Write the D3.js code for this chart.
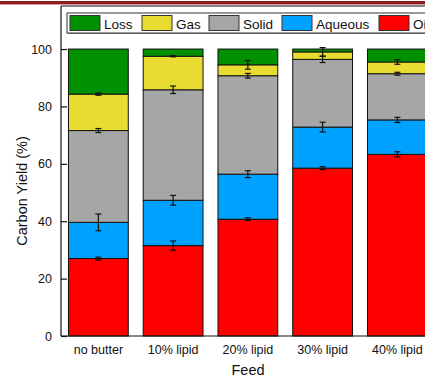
<!DOCTYPE html>
<html>
<head>
<meta charset="utf-8">
<script src="https://cdn.jsdelivr.net/npm/d3@7"></script>
<style>
  html, body { margin: 0; padding: 0; background: #fff; overflow: hidden; }
  svg { display: block; font-family: "Liberation Sans", Arial, sans-serif; }
</style>
</head>
<body>
<svg id="chart" width="425" height="378"></svg>
<script>
// Feedstocks and stacked carbon-yield fractions (cumulative tops, %)
const categories = ["no butter", "10% lipid", "20% lipid", "30% lipid", "40% lipid"];
const seriesNames = ["Oil", "Aqueous", "Solid", "Gas", "Loss"];
const oilTop     = [27.0, 31.5, 40.7, 58.5, 63.3];
const aqueousTop = [39.6, 47.3, 56.4, 72.8, 75.3];
const solidTop   = [71.6, 85.8, 90.7, 96.4, 91.4];
const gasTop     = [84.3, 97.5, 94.5, 99.0, 95.5];
const lossTop    = [100, 100, 100, 100, 100];
// Error half-widths at each segment top
const oilErr     = [0.5, 1.6, 0.5, 0.5, 0.9];
const aqueousErr = [2.9, 1.7, 1.2, 1.7, 0.9];
const solidErr   = [0.7, 1.3, 0.8, 1.1, 0.5];
const gasErr     = [0.4, 0.2, 1.5, 1.5, 0.8];
const yTicks = [0, 20, 40, 60, 80, 100];
const legendOrder = ["Loss", "Gas", "Solid", "Aqueous", "Oil"];

const colors = {
  Oil: "#ff0000",
  Aqueous: "#00a2ff",
  Solid: "#a6a6a6",
  Gas: "#e8dc32",
  Loss: "#009000"
};

const tops = { Oil: oilTop, Aqueous: aqueousTop, Solid: solidTop, Gas: gasTop, Loss: lossTop };
const errs = { Oil: oilErr, Aqueous: aqueousErr, Solid: solidErr, Gas: gasErr };

const svg = d3.select("#chart");

// Header rule across the top
svg.append("rect").attr("x", 0).attr("y", 1).attr("width", 425).attr("height", 3).attr("fill", "#8b1c1f");
svg.append("rect").attr("x", 0).attr("y", 4).attr("width", 425).attr("height", 1).attr("fill", "#d9a0a0");

const plotLeft = 61, plotTop = 6, plotBottom = 336;
const step = 74.75;
const x = d3.scaleBand().domain(categories).range([plotLeft, plotLeft + step * categories.length]).paddingInner(0.2).paddingOuter(0.1);
const y = d3.scaleLinear().domain([0, 115]).range([plotBottom, plotTop]);

// Stacked bars
const g = svg.append("g");
seriesNames.forEach((s, si) => {
  const base = si === 0 ? categories.map(() => 0) : tops[seriesNames[si - 1]];
  g.selectAll(null).data(categories).enter().append("rect")
    .attr("x", d => x(d))
    .attr("width", x.bandwidth())
    .attr("y", (d, i) => y(tops[s][i]))
    .attr("height", (d, i) => y(base[i]) - y(tops[s][i]))
    .attr("fill", colors[s])
    .attr("stroke", "#111")
    .attr("stroke-width", 1);
});

// Error bars at segment tops
const eg = svg.append("g").attr("stroke", "#111").attr("stroke-width", 1.2);
["Oil", "Aqueous", "Solid", "Gas"].forEach(s => {
  categories.forEach((c, i) => {
    const cx = x(c) + x.bandwidth() / 2;
    const v = tops[s][i], e = errs[s][i];
    const y1 = y(v + e), y2 = y(v - e);
    eg.append("line").attr("x1", cx).attr("x2", cx).attr("y1", y1).attr("y2", y2);
    eg.append("line").attr("x1", cx - 3).attr("x2", cx + 3).attr("y1", y1).attr("y2", y1);
    eg.append("line").attr("x1", cx - 3).attr("x2", cx + 3).attr("y1", y2).attr("y2", y2);
  });
});

// Frame: left and top, bottom axis
const frame = svg.append("g").attr("stroke", "#111").attr("stroke-width", 1.2).attr("fill", "none");
frame.append("line").attr("x1", plotLeft).attr("x2", plotLeft).attr("y1", plotTop).attr("y2", plotBottom);
frame.append("line").attr("x1", plotLeft).attr("x2", 425).attr("y1", plotTop).attr("y2", plotTop);
frame.append("line").attr("x1", plotLeft).attr("x2", 425).attr("y1", plotBottom).attr("y2", plotBottom);

// Y axis with inward ticks
const yAxis = d3.axisLeft(y).tickValues(yTicks).tickSizeInner(-6).tickSizeOuter(0).tickPadding(9);
const ya = svg.append("g").attr("transform", `translate(${plotLeft},0)`).call(yAxis);
ya.select(".domain").remove();
ya.selectAll(".tick line").attr("stroke", "#111").attr("stroke-width", 1.2);
ya.selectAll(".tick text").attr("font-size", 12.5).attr("fill", "#111").attr("font-family", "Liberation Sans, Arial, sans-serif");

// X axis labels
const xAxis = d3.axisBottom(x).tickSize(0).tickPadding(9);
const xa = svg.append("g").attr("transform", `translate(0,${plotBottom})`).call(xAxis);
xa.select(".domain").remove();
xa.selectAll(".tick text").attr("font-size", 12.5).attr("fill", "#111").attr("font-family", "Liberation Sans, Arial, sans-serif");

// Axis titles
svg.append("text").attr("x", 248).attr("y", 375).attr("text-anchor", "middle")
  .attr("font-size", 14.5).attr("fill", "#111").text("Feed");
svg.append("text").attr("transform", "translate(27,191) rotate(-90)").attr("text-anchor", "middle")
  .attr("font-size", 14.5).attr("fill", "#111").text("Carbon Yield (%)");

// Legend (extends past the right edge)
const lg = svg.append("g");
lg.append("rect").attr("x", 68).attr("y", 14).attr("width", 400).attr("height", 20)
  .attr("fill", "#888");
lg.append("rect").attr("x", 67).attr("y", 13).attr("width", 400).attr("height", 20)
  .attr("fill", "#fff").attr("stroke", "#333").attr("stroke-width", 1);
const legendX = [70, 142, 209, 282, 379];
legendOrder.forEach((s, i) => {
  lg.append("rect").attr("x", legendX[i]).attr("y", 15.5).attr("width", 30).attr("height", 15)
    .attr("fill", colors[s]).attr("stroke", "#333").attr("stroke-width", 1);
  lg.append("text").attr("x", legendX[i] + 34).attr("y", 28.5)
    .attr("font-size", 13.5).attr("fill", "#111").text(s);
});
</script>
</body>
</html>
